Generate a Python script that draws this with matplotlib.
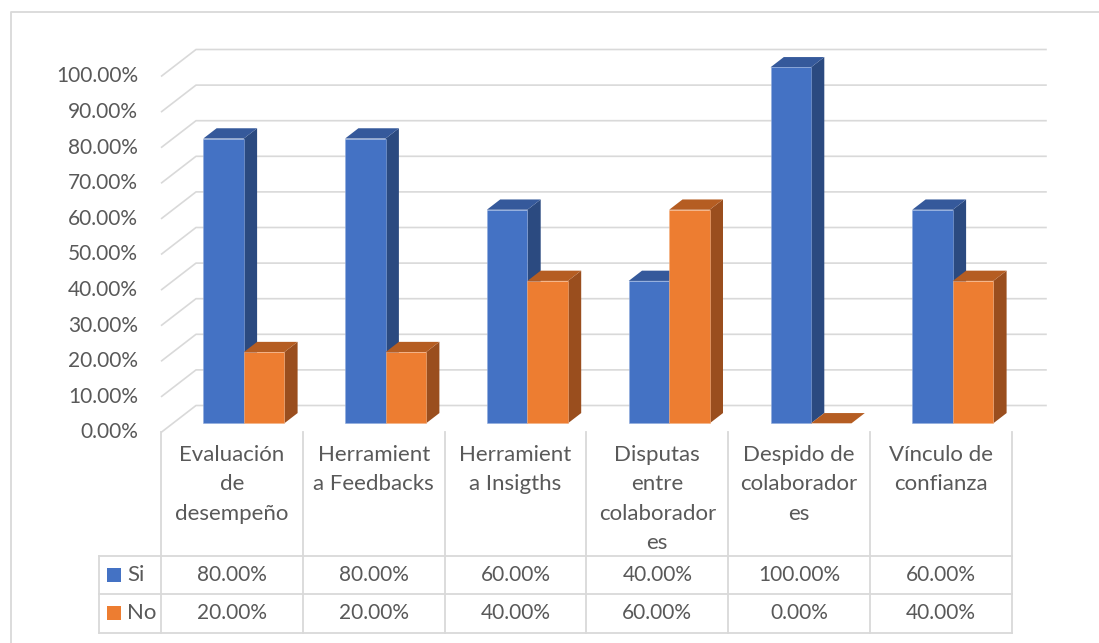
import matplotlib
matplotlib.use("Agg")
import matplotlib.pyplot as plt
from matplotlib.patches import Polygon, Rectangle

# ---------------- data ----------------
categories = [
    ["Evaluación", "de", "desempeño"],
    ["Herramient", "a Feedbacks"],
    ["Herramient", "a Insigths"],
    ["Disputas", "entre", "colaborador", "es"],
    ["Despido de", "colaborador", "es"],
    ["Vínculo de", "confianza"],
]
series_names = ["Si", "No"]
si_values = [0.80, 0.80, 0.60, 0.40, 1.00, 0.60]
no_values = [0.20, 0.20, 0.40, 0.60, 0.00, 0.40]
y_ticks = [0.0, 0.1, 0.2, 0.3, 0.4, 0.5, 0.6, 0.7, 0.8, 0.9, 1.0]
y_tick_labels = ["0.00%", "10.00%", "20.00%", "30.00%", "40.00%", "50.00%",
                 "60.00%", "70.00%", "80.00%", "90.00%", "100.00%"]

# ---------------- style ----------------
FRONT = {"Si": "#4472C4", "No": "#ED7D31"}
SIDE = {"Si": "#2B4A80", "No": "#9A4E1E"}
TOP = {"Si": "#35599B", "No": "#B55D22"}
GRID = "#D9D9D9"
TXT = "#595959"
FONT = ["Lato", "DejaVu Sans"]
FS_NUM = 15.0
FS_LAB = 16.0

W, H = 1099, 643
fig = plt.figure(figsize=(W / 100, H / 100), dpi=100)
ax = fig.add_axes([0, 0, 1, 1])

# layout (pixels) -> data units
X_LEFT, PX_CAT = 161.0, 141.8
Y_ZERO, PX_VAL = 432.5, 356.0
ax.set_xlim(-0.5 - X_LEFT / PX_CAT, -0.5 + (W - X_LEFT) / PX_CAT)
ax.set_ylim(-(H - Y_ZERO) / PX_VAL, Y_ZERO / PX_VAL)
ax.axis("off")


def px(xp, yp):
    return (-0.5 + (xp - X_LEFT) / PX_CAT, (Y_ZERO - yp) / PX_VAL)


DX = 35.0 / PX_CAT
DY = 27.0 / PX_VAL
n = len(categories)
x_min, x_max = -0.5, n - 0.5

# outer chart border
bx0, by0 = px(11, 12)
bx1, by1 = px(W + 5, H + 5)
ax.plot([bx0, bx0, bx1], [by1, by0, by0], color=GRID, lw=1.3, zorder=1)

# gridlines (side wall + back wall)
for t in y_ticks:
    ax.plot([x_min, x_min + DX, x_max + DX], [t, t + DY, t + DY],
            color=GRID, lw=1.2, zorder=1, solid_capstyle="butt")

# y tick labels
for t, lab in zip(y_ticks, y_tick_labels):
    lx, _ = px(138, 0)
    ax.text(lx, t, lab, ha="right", va="center", fontsize=FS_NUM, color=TXT,
            family=FONT)

# bars
BW = 40.5 / PX_CAT
d0, d1 = 0.34, 0.72


def bar3d(xl, w, v, name):
    ox0, oy0 = d0 * DX, d0 * DY
    ox1, oy1 = d1 * DX, d1 * DY
    side = [(xl + w + ox0, oy0), (xl + w + ox1, oy1),
            (xl + w + ox1, v + oy1), (xl + w + ox0, v + oy0)]
    top = [(xl + ox0, v + oy0), (xl + w + ox0, v + oy0),
           (xl + w + ox1, v + oy1), (xl + ox1, v + oy1)]
    ax.add_patch(Polygon(side, closed=True, fc=SIDE[name], ec="none", zorder=3))
    ax.add_patch(Polygon(top, closed=True, fc=TOP[name], ec="none", zorder=3))
    if v > 0:
        ax.add_patch(Rectangle((xl + ox0, oy0), w, v, fc=FRONT[name],
                               ec="#8FAADC" if name == "Si" else "#F4B183",
                               lw=0.4, zorder=3))


for i in range(n):
    bar3d(i - BW, BW, si_values[i], "Si")
    bar3d(i, BW, no_values[i], "No")

# ---------------- data table ----------------
col_edges = [x_min + k for k in range(n + 1)]
_, y_hdr_top = px(0, 432)
_, y_r0 = px(0, 556)
_, y_r1 = px(0, 594)
_, y_r2 = px(0, 632.5)
x_leg, _ = px(99.3, 0)

for xe in col_edges:
    ax.plot([xe, xe], [y_hdr_top, y_r2], color=GRID, lw=1.3, zorder=1)
for yy in (y_r0, y_r1, y_r2):
    ax.plot([x_leg, x_max], [yy, yy], color=GRID, lw=1.3, zorder=1)
ax.plot([x_leg, x_leg], [y_r0, y_r2], color=GRID, lw=1.3, zorder=1)

# category labels
for i, lines in enumerate(categories):
    for j, line in enumerate(lines):
        _, yy = px(0, 455 + j * 29.3)
        ax.text(i, yy, line, ha="center", va="center", fontsize=FS_LAB,
                color=TXT, family=FONT)

# rows
rows = [(series_names[0], si_values, (y_r0 + y_r1) / 2),
        (series_names[1], no_values, (y_r1 + y_r2) / 2)]
kx0, _ = px(107, 0)
kx1, _ = px(121, 0)
tx, _ = px(127, 0)
kh = 14 / PX_VAL
for name, vals, yc in rows:
    ax.add_patch(Rectangle((kx0, yc - kh / 2), kx1 - kx0, kh,
                           fc=FRONT[name], ec="none", zorder=3))
    ax.text(tx, yc, name, ha="left", va="center", fontsize=FS_LAB, color=TXT,
            family=FONT)
    for i, v in enumerate(vals):
        ax.text(i, yc, f"{v * 100:.2f}%", ha="center", va="center",
                fontsize=FS_NUM, color=TXT, family=FONT)

fig.savefig("out.png", dpi=100, facecolor="white")
